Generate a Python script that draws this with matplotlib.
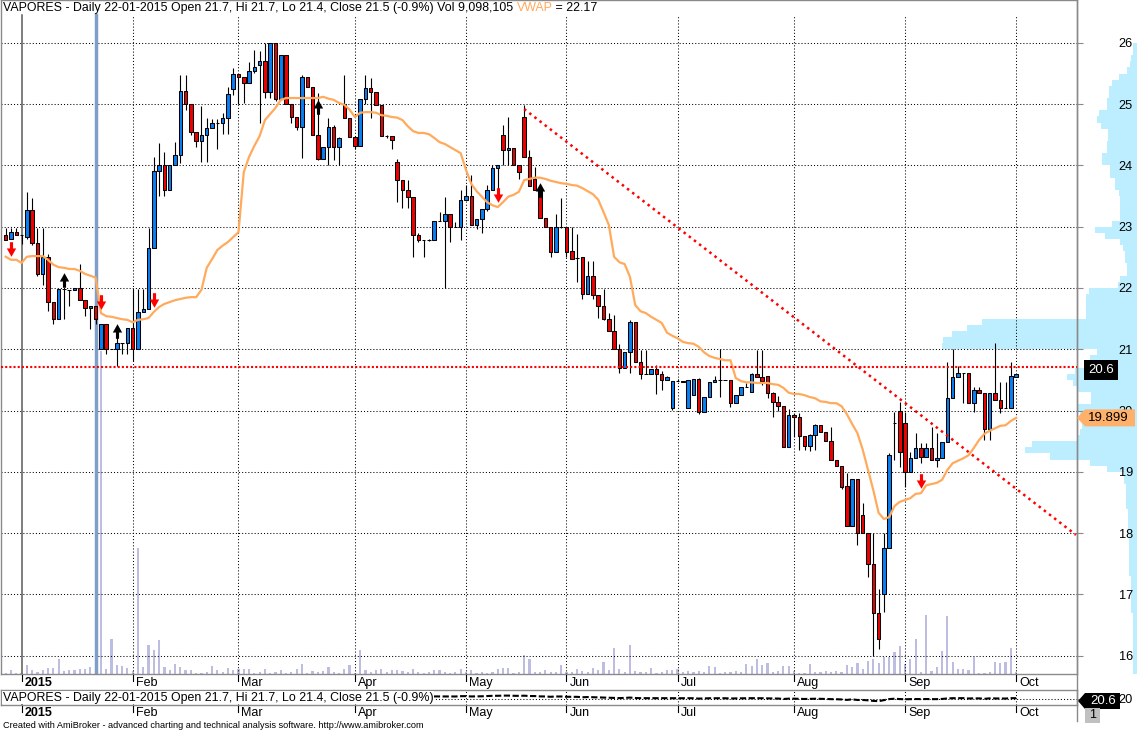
import numpy as np
import matplotlib
matplotlib.use('Agg')
import matplotlib.pyplot as plt
from matplotlib.patches import Rectangle, Polygon
from matplotlib.path import Path
from matplotlib.lines import Line2D
import matplotlib.transforms as mtransforms

plt.rcParams['font.family'] = ['Liberation Sans', 'DejaVu Sans']

# ---------------- data ----------------
opens = [22.87,22.80,22.91,22.87,22.83,23.27,22.73,22.23,22.51,21.77,
         21.49,21.98,21.97,21.97,22.00,21.80,21.67,21.71,21.00,21.41,
         21.00,21.00,21.10,21.10,21.35,21.00,21.61,21.66,22.65,23.91,
         24.01,23.60,24.01,24.17,25.22,25.00,24.55,24.40,24.50,24.61,
         24.69,24.69,24.78,25.25,25.49,25.44,25.35,25.54,25.64,25.71,
         25.20,26.00,25.09,25.80,25.00,24.79,24.63,25.44,25.28,24.50,
         24.11,24.30,24.63,24.30,25.00,24.78,24.47,24.32,25.09,25.27,
         25.20,24.99,24.48,24.48,24.06,23.76,23.60,23.49,22.87,22.78,
         22.78,22.78,23.09,23.09,23.21,23.00,23.00,23.44,23.50,23.03,
         23.13,23.29,23.60,23.96,24.50,24.25,24.29,24.01,24.79,24.14,
         23.78,23.60,23.14,23.00,22.59,23.00,23.00,22.60,22.49,22.51,
         21.90,22.20,21.89,21.71,21.49,21.30,21.00,20.69,20.96,21.44,
         20.79,20.60,20.60,20.68,20.60,20.50,20.04,20.48,20.48,20.04,
         20.25,20.51,19.98,20.22,20.47,20.50,20.50,20.50,20.12,20.25,
         20.38,20.30,20.60,20.55,20.57,20.29,20.14,20.07,19.40,19.93,
         19.89,19.58,19.42,19.60,19.76,19.65,19.50,19.19,19.09,18.77,
         18.11,18.88,18.29,18.00,17.49,16.69,17.00,17.76,19.80,19.99,
         19.80,19.00,19.22,19.39,19.24,19.39,19.19,19.22,19.49,20.20,
         20.55,20.61,20.61,20.12,20.33,20.29,19.70,20.29,20.17,20.04,
         20.04,20.55]
highs = [22.98,22.98,22.98,22.87,23.57,23.47,22.98,22.98,22.55,21.77,
         21.98,21.98,21.97,22.00,22.39,21.80,21.71,21.71,21.41,21.41,
         21.00,21.30,21.10,21.35,21.98,21.98,21.98,22.98,24.14,24.37,
         24.22,24.01,24.38,25.48,25.48,25.00,24.55,24.97,24.78,24.75,
         24.76,24.85,25.28,25.59,25.49,25.44,25.69,25.89,25.87,26.00,
         26.00,26.00,25.80,25.80,25.00,24.79,25.48,25.44,25.28,25.18,
         24.30,24.77,24.66,24.47,25.48,24.78,24.47,25.09,25.48,25.43,
         25.20,24.99,24.50,24.48,24.11,23.76,23.76,23.49,22.90,22.78,
         22.80,23.09,23.24,23.49,23.21,23.07,23.60,23.68,23.84,23.13,
         23.29,23.68,24.01,24.01,24.66,24.79,24.29,24.01,24.98,24.25,
         23.98,23.70,23.14,23.00,23.21,23.47,23.00,23.00,22.88,22.51,
         22.44,22.44,21.89,21.98,21.59,21.56,21.08,20.96,21.48,21.44,
         20.99,20.99,20.68,20.74,20.64,20.57,20.48,20.51,20.48,20.50,
         20.51,20.53,20.22,20.47,20.57,21.00,20.50,20.50,20.25,20.38,
         20.45,20.62,20.99,20.99,20.57,20.30,20.24,20.07,20.02,19.96,
         19.96,19.58,19.62,19.78,19.76,19.65,19.73,19.19,19.09,18.98,
         18.88,18.88,18.49,18.00,18.00,17.09,18.00,19.30,19.98,20.14,
         19.98,19.32,19.63,19.47,19.47,19.73,19.63,19.49,20.80,21.00,
         20.73,20.61,20.61,20.38,20.38,20.29,20.29,21.10,20.46,20.46,
         20.79,20.60]
lows = [22.78,22.80,22.87,22.72,22.80,22.70,22.20,22.05,21.62,21.41,
        21.49,21.49,21.71,21.97,21.80,21.54,21.33,21.41,21.00,20.92,
        21.00,20.73,20.92,20.92,20.81,21.00,21.61,21.66,22.65,23.50,
        23.50,23.60,24.01,24.04,24.90,24.50,24.30,24.06,24.06,24.61,
        24.27,24.51,24.51,25.15,25.00,25.02,25.35,25.51,24.69,25.10,
        25.10,25.05,25.09,25.00,24.70,24.58,24.12,25.28,24.50,24.09,
        24.11,24.01,24.09,24.01,24.78,24.47,24.27,24.32,25.00,24.78,
        24.99,24.48,24.45,24.27,23.40,23.31,23.31,22.51,22.75,22.51,
        22.76,22.78,23.09,22.00,22.75,23.00,22.78,23.44,23.03,22.96,
        22.90,23.25,23.60,23.55,24.01,24.01,24.01,23.78,24.14,23.67,
        23.60,23.14,23.00,22.51,22.59,22.98,22.51,22.47,22.10,21.82,
        21.90,21.82,21.51,21.48,21.30,21.00,20.61,20.69,20.61,20.79,
        20.51,20.60,20.60,20.27,20.33,20.50,20.01,20.48,20.46,20.04,
        20.25,19.94,19.98,20.22,20.47,20.22,20.50,20.05,20.12,20.25,
        20.38,20.30,20.55,20.42,20.20,19.89,20.00,19.40,19.40,19.57,
        19.36,19.36,19.34,19.36,19.65,19.50,19.19,19.09,18.72,18.11,
        18.11,17.80,18.00,17.28,16.00,16.11,16.71,17.76,19.19,19.08,
        18.75,19.00,19.22,19.15,19.24,19.19,19.08,19.22,19.49,20.20,
        20.55,20.12,20.12,19.98,20.29,19.52,19.52,20.17,19.96,20.04,
        20.04,20.55]
closes = [22.78,22.91,22.87,22.87,23.27,22.73,22.23,22.51,21.77,21.49,
          21.98,21.98,21.97,22.00,21.80,21.67,21.71,21.49,21.41,21.00,
          21.00,21.10,21.10,21.35,21.00,21.61,21.66,22.65,23.91,24.01,
          23.60,24.01,24.17,25.22,25.00,24.55,24.40,24.50,24.61,24.69,
          24.69,24.78,25.17,25.49,25.44,25.35,25.54,25.61,25.71,25.20,
          26.00,25.09,25.80,25.00,24.79,24.63,25.44,25.28,24.50,24.11,
          24.30,24.63,24.30,24.45,24.78,24.47,24.32,25.09,25.27,25.20,
          24.99,24.48,24.48,24.42,23.76,23.60,23.49,22.87,22.78,22.78,
          22.78,23.09,23.09,23.21,23.00,23.00,23.44,23.50,23.03,23.13,
          23.29,23.60,23.96,24.01,24.25,24.29,24.01,23.89,24.14,23.67,
          23.60,23.14,23.00,22.59,23.00,23.00,22.59,22.47,22.49,21.90,
          22.20,21.89,21.71,21.49,21.30,21.00,20.69,20.96,21.44,20.79,
          20.60,20.60,20.68,20.60,20.50,20.55,20.48,20.48,20.46,20.50,
          20.51,19.98,20.22,20.47,20.50,20.50,20.50,20.12,20.25,20.38,
          20.38,20.60,20.55,20.48,20.29,20.14,20.07,19.40,19.93,19.89,
          19.58,19.42,19.60,19.76,19.65,19.50,19.19,19.09,18.75,18.11,
          18.88,18.00,18.00,17.49,16.69,16.27,17.76,19.27,19.80,19.32,
          19.00,19.22,19.39,19.24,19.39,19.19,19.22,19.49,20.20,20.55,
          20.61,20.61,20.12,20.33,20.29,19.70,20.29,20.17,20.04,20.04,
          20.56,20.60]
volumes_m = [1.0,2.8,0.8,0.8,6.5,2.8,1.5,3.2,4.7,4.5,
             11.0,2.3,2.8,3.2,3.5,3.5,5.3,9.1,242.0,3.5,
             26.0,7.0,6.0,4.5,2.3,94.5,5.3,21.5,17.8,25.3,
             5.3,3.2,7.3,5.3,3.2,2.8,0.8,1.0,1.5,5.8,
             2.8,1.5,4.5,2.8,4.0,3.5,4.0,1.0,1.5,3.5,
             1.0,1.5,2.8,1.0,1.5,4.0,7.7,1.0,2.0,1.5,
             2.0,5.3,1.5,1.0,4.0,6.5,0.8,17.8,3.2,1.5,
             2.8,4.0,1.5,3.2,2.8,2.0,1.5,3.5,1.5,1.0,
             1.5,2.8,2.8,1.5,1.0,1.5,3.5,1.5,2.8,1.0,
             1.5,1.0,1.5,4.0,4.5,4.7,1.0,1.5,14.0,11.0,
             1.5,1.5,2.8,1.5,1.5,6.5,1.5,1.5,3.5,2.3,
             1.5,4.5,3.0,9.2,3.0,19.3,3.5,1.7,21.8,2.3,
             1.7,1.7,4.3,1.0,1.7,3.0,3.0,3.8,1.7,2.3,
             1.7,2.3,1.3,6.0,5.5,1.0,1.3,1.7,2.3,1.3,
             7.5,6.0,11.3,6.8,8.0,1.3,2.3,6.0,6.0,2.3,
             1.0,1.0,7.3,1.7,1.3,2.3,1.7,2.3,1.7,6.8,
             5.5,8.0,3.8,10.0,11.0,8.5,13.0,12.5,16.3,21.0,
             7.5,11.3,26.3,1.7,44.3,2.5,5.5,17.3,43.5,8.8,
             3.5,3.5,3.0,13.0,1.0,1.0,1.7,9.2,8.5,8.8,
             19.7,1.5]
vwap = [22.51,22.46,22.46,22.41,22.51,22.52,22.52,22.52,22.46,22.38,
        22.34,22.33,22.31,22.31,22.28,22.23,22.20,22.17,21.59,21.54,
        21.53,21.51,21.49,21.48,21.44,21.48,21.49,21.51,21.61,21.69,
        21.74,21.77,21.80,21.82,21.84,21.85,21.85,21.97,22.33,22.47,
        22.62,22.69,22.75,22.83,22.91,23.89,24.14,24.32,24.48,24.74,
        24.84,24.94,25.07,25.10,25.10,25.10,25.10,25.10,25.10,25.10,
        25.12,25.09,25.07,25.02,24.99,24.91,24.79,24.86,24.87,24.87,
        24.86,24.82,24.81,24.79,24.78,24.74,24.64,24.56,24.53,24.53,
        24.51,24.45,24.38,24.35,24.30,24.25,24.20,23.93,23.70,23.58,
        23.49,23.40,23.35,23.32,23.40,23.49,23.52,23.57,23.76,23.78,
        23.80,23.80,23.78,23.75,23.73,23.71,23.70,23.68,23.67,23.63,
        23.58,23.53,23.44,23.24,23.03,22.51,22.42,22.39,22.18,21.72,
        21.62,21.59,21.53,21.48,21.43,21.27,21.22,21.18,21.12,21.10,
        21.09,21.04,20.95,20.89,20.86,20.84,20.82,20.82,20.53,20.48,
        20.46,20.46,20.45,20.45,20.45,20.43,20.42,20.37,20.29,20.27,
        20.27,20.25,20.22,20.20,20.15,20.14,20.12,20.12,20.07,19.94,
        19.78,19.63,19.36,19.03,18.70,18.33,18.23,18.26,18.44,18.51,
        18.54,18.57,18.64,18.65,18.78,18.80,18.82,18.87,19.03,19.14,
        19.18,19.22,19.27,19.39,19.52,19.62,19.67,19.71,19.75,19.76,
        19.83,19.88]

month_labels = ['2015', 'Feb', 'Mar', 'Apr', 'May', 'Jun', 'Jul', 'Aug', 'Sep', 'Oct']
month_first_bar = [3, 24, 44, 66, 87, 106, 127, 149, 170, 191]
price_ticks = [16, 17, 18, 19, 20, 21, 22, 23, 24, 25, 26]

sell_bar = [1, 18, 28, 93, 173]
sell_level = [22.64, 21.77, 21.80, 23.52, 18.85]
buy_bar = [11, 21, 59, 101]
buy_level = [22.13, 21.30, 24.95, 23.60]

trend_bar = [98, 202.3]
trend_level = [24.92, 17.97]
hline_level = 20.71
selected_bar = 17

profile_lo = [15.7, 16.7, 17.3, 18.0, 18.4, 18.8, 19.0, 19.1, 19.2, 19.3, 19.4, 19.5, 19.6,
              19.7, 19.9, 20.0, 20.1, 20.3, 20.4, 20.5, 20.6, 20.7, 20.8, 20.9, 21.0, 21.1,
              21.2, 21.3, 21.4, 21.5, 21.9, 22.0, 22.1, 22.2, 22.4, 22.6, 22.7, 22.8, 22.9,
              23.0, 23.1, 23.5, 23.6, 23.8, 24.0, 24.2, 24.4, 24.6, 24.7, 24.8, 24.9, 25.1,
              25.3, 25.4, 25.5, 25.6, 25.7, 25.8]
profile_hi = profile_lo[1:] + [26.0]
profile_vol = [4, 6, 8, 9.5, 11, 13, 30, 47, 87, 112, 105, 60, 57,
               55, 57, 60, 46, 60, 64, 70, 62, 52, 47, 40, 195, 194,
               185, 170, 155, 51, 48, 19, 17, 10.5, 12, 14, 17, 32, 42,
               25, 17, 18, 22.5, 27, 35, 30.5, 29, 36, 40, 38, 30.5, 28,
               25, 18, 10, 7, 6, 4.5]

title_main = "VAPORES - Daily 22-01-2015 Open 21.7, Hi 21.7, Lo 21.4, Close 21.5 (-0.9%) Vol 9,098,105 "
title_vwap = "VWAP"
title_vwap_val = " = 22.17"
title_pane2 = "VAPORES - Daily 22-01-2015 Open 21.7, Hi 21.7, Lo 21.4, Close 21.5 (-0.9%)"
last_label = "20.6"
vwap_label = "19.899"
footer = "Created with AmiBroker - advanced charting and technical analysis software. http://www.amibroker.com"

# ---------------- styling ----------------
UP = '#0A7EF2'
DN = '#EE0000'
VWAP_C = '#FFAA5C'
VOL_C = '#BDBDE2'
PROF_C = '#BDEEFF'
GRID_C = '#000000'
AX_C = '#8A8A8A'
SEL_C = '#7F9FC8'

W, H = 1137, 732
fig = plt.figure(figsize=(W / 100, H / 100), dpi=100)
fig.patch.set_facecolor('white')


def rect(x0, y0, x1, y1):
    return [x0 / W, 1 - y1 / H, (x1 - x0) / W, (y1 - y0) / H]


def fy(py):
    return 1 - py / H


n = len(closes)
idx = np.arange(n)
XL = (-0.89, 202.5)
YL = (15.70, 26.70)
PANE_TOP, PANE_BOT = 0, 674
GRID_TOP = 15
gfrac = (PANE_BOT - GRID_TOP) / (PANE_BOT - PANE_TOP)

# volume-at-price profile (behind everything, extends into the axis area)
axp = fig.add_axes(rect(1, PANE_TOP, W, PANE_BOT))
axp.set_xlim(W - 1, 0)
axp.set_ylim(*YL)
axp.axis('off')
axp.barh(profile_lo, profile_vol, height=np.array(profile_hi) - np.array(profile_lo),
         left=0, align='edge', color=PROF_C, edgecolor='none')

# volume bars
axv = fig.add_axes(rect(1, PANE_TOP, 1077, PANE_BOT))
axv.set_facecolor('none')
axv.set_xlim(*XL)
axv.set_ylim(0, 505)
axv.axis('off')
axv.bar(idx, volumes_m, width=0.42, color=VOL_C, edgecolor='none')

# main price axes
ax = fig.add_axes(rect(1, PANE_TOP, 1077, PANE_BOT))
ax.set_facecolor('none')
for s in ax.spines.values():
    s.set_color(AX_C)
    s.set_linewidth(1)
ax.set_xticks([])
ax.yaxis.tick_right()
ax.set_yticks(price_ticks)
ax.set_yticklabels([str(t) for t in price_ticks])
ax.tick_params(axis='y', direction='out', length=4, width=0.8, color=AX_C,
               pad=26, labelsize=9.2)

ax.hlines(price_ticks, XL[0], XL[1], colors=GRID_C, linestyles=(0, (1, 2)), lw=0.75, zorder=1)
for k, m in enumerate(month_first_bar):
    if k == 0:
        ax.axvline(m, ymin=0, ymax=gfrac, color='#5A5A5A', lw=1.1, zorder=1)
    else:
        ax.axvline(m, ymin=0, ymax=gfrac, color=GRID_C, ls=(0, (1, 2)), lw=0.75, zorder=1)
ax.axvline(selected_bar, ymin=0, ymax=gfrac, color=SEL_C, lw=2.5, zorder=1.5)

# candles
ax.vlines(idx, lows, highs, colors='black', lw=0.8, zorder=3)
bw = 0.66
for i in range(n):
    o, c = opens[i], closes[i]
    col = UP if c >= o else DN
    ax.add_patch(Rectangle((i - bw / 2, min(o, c)), bw, abs(c - o), facecolor=col,
                           edgecolor='black', lw=0.75, zorder=4))

# VWAP
ax.plot(idx, vwap, color=VWAP_C, lw=1.6, zorder=5, solid_joinstyle='round')

# trend line and level line
ax.plot(trend_bar, trend_level, color='#FF0000', lw=1.8, ls=(0, (1, 1.6)), zorder=6)
ax.axhline(hline_level, color='#FF0000', lw=1.5, ls=(0, (1, 1)), zorder=6)

# signal arrows
down_path = Path([(-1.5, 7), (1.5, 7), (1.5, 1), (4.5, 1), (0, -7), (-4.5, 1), (-1.5, 1), (-1.5, 7)],
                 [Path.MOVETO] + [Path.LINETO] * 6 + [Path.CLOSEPOLY])
up_path = Path([(-1.5, -7), (1.5, -7), (1.5, -1), (4.5, -1), (0, 7), (-4.5, -1), (-1.5, -1), (-1.5, -7)],
               [Path.MOVETO] + [Path.LINETO] * 6 + [Path.CLOSEPOLY])
ax.plot(sell_bar, sell_level, ls='none', marker=down_path, markersize=10.5,
        color='#FF0000', markeredgewidth=0, zorder=7)
ax.plot(buy_bar, buy_level, ls='none', marker=up_path, markersize=10.5,
        color='black', markeredgewidth=0, zorder=7)

ax.set_xlim(*XL)
ax.set_ylim(*YL)

# ---------------- second (small) pane ----------------
ax2 = fig.add_axes(rect(1, 690, 1077, 705))
ax2.set_facecolor('none')
for s in ax2.spines.values():
    s.set_color(AX_C)
    s.set_linewidth(1)
ax2.set_xlim(*XL)
ax2.set_ylim(10.8, 32.3)
ax2.set_xticks([])
ax2.yaxis.tick_right()
ax2.set_yticks([20])
ax2.set_yticklabels(['20'])
ax2.tick_params(axis='y', direction='out', length=4, width=0.8, color=AX_C,
                pad=26, labelsize=9.2)
ax2.axhline(20, color=GRID_C, ls=(0, (1, 2)), lw=0.75, zorder=1)
for k, m in enumerate(month_first_bar):
    if k == 0:
        ax2.axvline(m, color='#5A5A5A', lw=1.1, zorder=1)
    else:
        ax2.axvline(m, color=GRID_C, ls=(0, (1, 2)), lw=0.75, zorder=1)
ax2.plot(idx, closes, color='black', lw=1.5, ls=(0, (3, 1.2)), zorder=3)

# ---------------- date labels ----------------
def date_row(axis, y_text, y_tick0, y_tick1):
    tr = mtransforms.blended_transform_factory(axis.transData, fig.transFigure)
    off = mtransforms.ScaledTranslation(3 / 100, 0, fig.dpi_scale_trans)
    for k, (m, lab) in enumerate(zip(month_first_bar, month_labels)):
        fig.add_artist(Line2D([m, m], [fy(y_tick0), fy(y_tick1)], transform=tr,
                              color='black', lw=0.8))
        fig.text(m, fy(y_text), lab, transform=tr + off, ha='left', va='center',
                 fontsize=9, fontweight='bold' if k == 0 else 'normal', color='black')

date_row(ax, 683, 675, 681)
date_row(ax2, 713, 706, 712)

# right axis line running through both panes
fig.add_artist(Line2D([1077 / W, 1077 / W], [fy(0), fy(721)], color=AX_C, lw=1))

# ---------------- value labels on the right ----------------
trm = mtransforms.blended_transform_factory(fig.transFigure, ax.transData)
fig.text(1101 / W, closes[-1], last_label,
         transform=trm + mtransforms.ScaledTranslation(0, 4 / 100, fig.dpi_scale_trans),
         ha='center', va='center', color='white', fontsize=9.5,
         bbox=dict(boxstyle='square,pad=0.3', facecolor='black', edgecolor='none'), zorder=10)

# VWAP value label with pointer
vy_pix = ax.transData.transform((0, vwap[-1]))[1]
vy = H - vy_pix
fig.add_artist(Polygon([(1077 / W, fy(vy)), (1085 / W, fy(vy - 8.5)), (1135 / W, fy(vy - 8.5)),
                        (1135 / W, fy(vy + 8.5)), (1085 / W, fy(vy + 8.5))],
                       closed=True, transform=fig.transFigure, facecolor='#FFB06A',
                       edgecolor='none', zorder=9))
fig.text(1108 / W, fy(vy), vwap_label, ha='center', va='center', fontsize=9.5,
         color='black', zorder=10)

# pane-2 last value label with pointer
py2 = 701
fig.add_artist(Polygon([(1078 / W, fy(py2)), (1085 / W, fy(py2 - 8)), (1120 / W, fy(py2 - 8)),
                        (1120 / W, fy(py2 + 8)), (1085 / W, fy(py2 + 8))],
                       closed=True, transform=fig.transFigure, facecolor='black',
                       edgecolor='none', zorder=9))
fig.text(1103 / W, fy(py2), last_label, ha='center', va='center', fontsize=9.5,
         color='white', zorder=10)

# "1" box
fig.add_artist(Rectangle((1085 / W, fy(723)), 15 / W, 15 / H, transform=fig.transFigure,
                         facecolor='#C0C0C0', edgecolor='none', zorder=9))
fig.text(1092.5 / W, fy(715.5), '1', ha='center', va='center', fontsize=9, color='black', zorder=10)

# ---------------- titles ----------------
TFS = 8.9
fig.canvas.draw()
r = fig.canvas.get_renderer()
t1 = fig.text(3 / W, fy(8), title_main, ha='left', va='center', fontsize=TFS, color='black')
x1 = t1.get_window_extent(r).x1
t2 = fig.text(x1 / W, fy(8), title_vwap, ha='left', va='center', fontsize=TFS, color=VWAP_C)
x2 = t2.get_window_extent(r).x1
fig.text(x2 / W, fy(8), title_vwap_val, ha='left', va='center', fontsize=TFS, color='black')

fig.text(3 / W, fy(697.5), title_pane2, ha='left', va='center', fontsize=TFS, color='black',
         bbox=dict(boxstyle='square,pad=0.05', facecolor='white', edgecolor='none'), zorder=8)

fig.text(3 / W, fy(726), footer, ha='left', va='center', fontsize=6.6, color='black')

fig.savefig('out.png', dpi=100, facecolor='white')
